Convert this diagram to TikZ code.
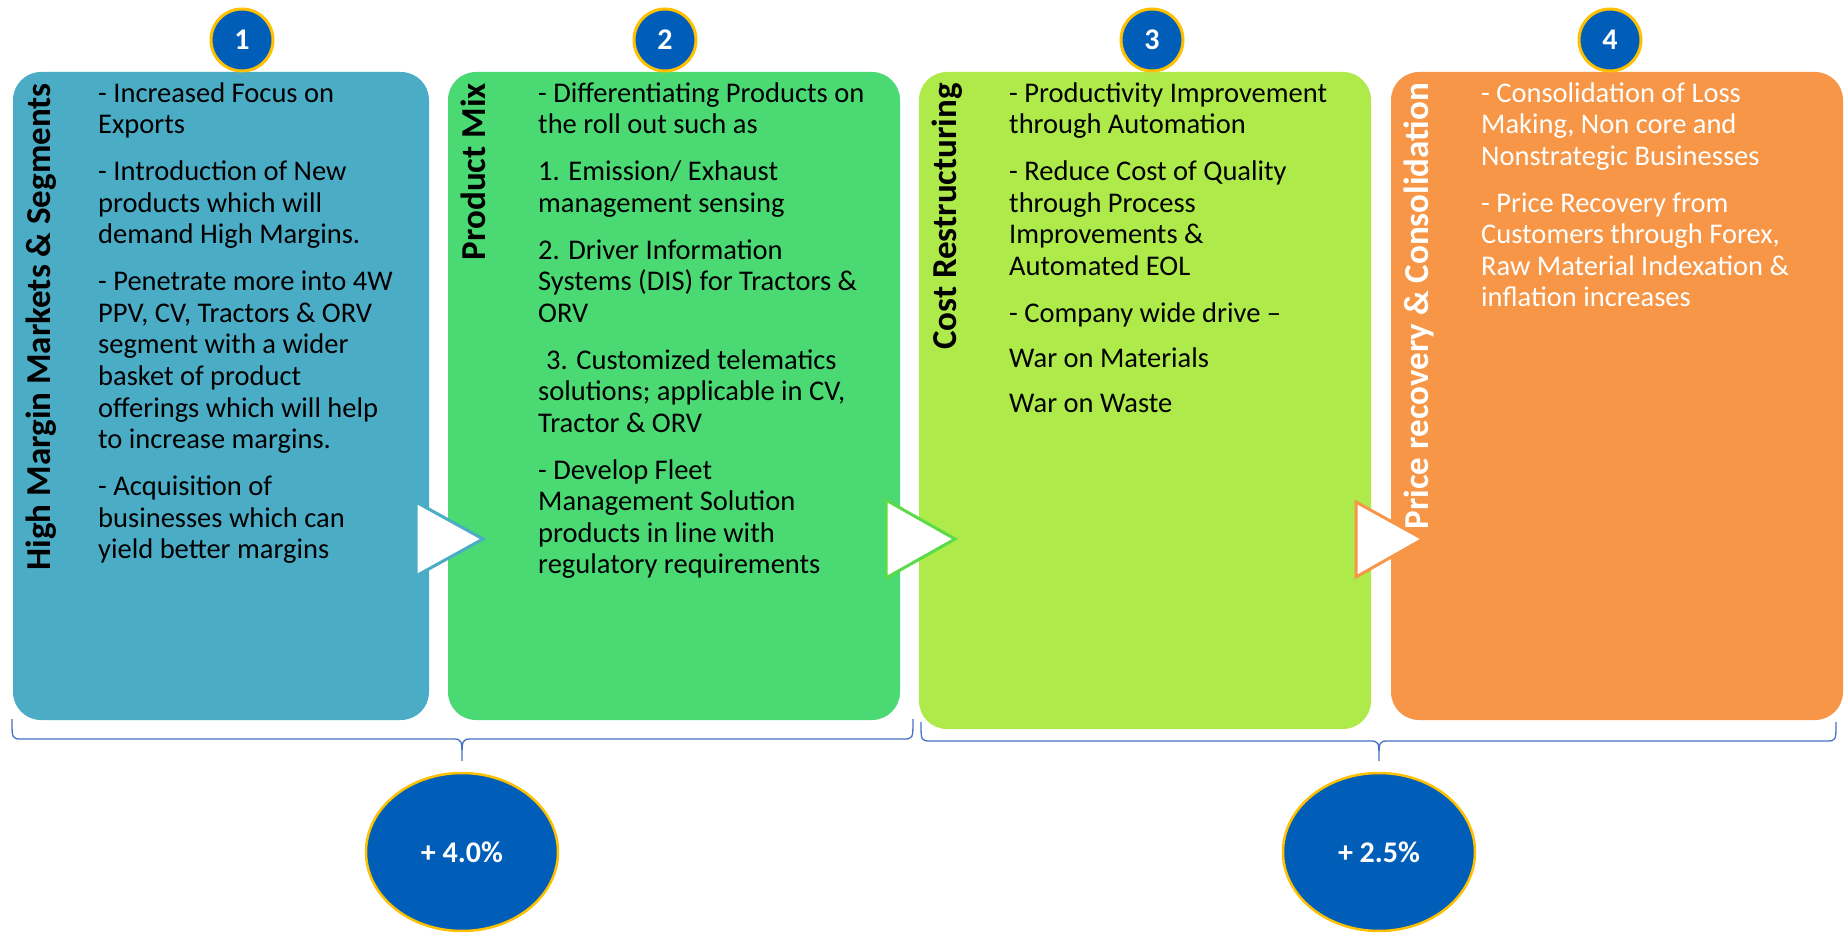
\documentclass[tikz,border=0pt]{standalone}
\usepackage{fontspec}
\setmainfont{Carlito}
\usetikzlibrary{calc,shapes.geometric}
\definecolor{tealbox}{HTML}{4BACC6}
\definecolor{greenbox}{HTML}{4AD972}
\definecolor{limebox}{HTML}{ADEA4A}
\definecolor{orangebox}{HTML}{F79646}
\definecolor{darkblue}{HTML}{005EB8}
\definecolor{gold}{HTML}{FFC000}
\definecolor{bracecol}{HTML}{4472C4}
\definecolor{arrowgreen}{HTML}{5CDB4A}
\newcommand{\fl}{\rule{0pt}{24pt}}
\begin{document}
\begin{tikzpicture}[x=1pt,y=-1pt,
		box/.style={rectangle,rounded corners=28pt,inner sep=0pt},
		title/.style={rotate=90,anchor=base east,inner sep=0pt,font=\fontsize{35}{40}\selectfont\bfseries},
		body/.style={anchor=north west,inner sep=0pt,align=left,font=\fontsize{28.5}{31.6}\selectfont},
		num/.style={circle,fill=darkblue,draw=gold,line width=3pt,minimum size=62pt,inner sep=0pt,text=white,font=\fontsize{30}{30}\selectfont\bfseries},
		gain/.style={ellipse,fill=darkblue,draw=gold,line width=2.5pt,minimum width=192pt,minimum height=158pt,inner sep=0pt,text=white,font=\fontsize{30}{30}\selectfont\bfseries},
		tri/.style={fill=white,line width=3pt,line join=miter},
		brace/.style={draw=bracecol,line width=1.3pt}]
		\useasboundingbox (0,0) rectangle (1847,933);
		\node[box,fill=tealbox,minimum width=416pt,minimum height=648pt] (b1) at (221,396) {};
		\node[box,fill=greenbox,minimum width=452pt,minimum height=648pt] (b2) at (674,396) {};
		\node[box,fill=limebox,minimum width=452pt,minimum height=657pt] (b3) at (1145,400.5) {};
		\node[box,fill=orangebox,minimum width=452pt,minimum height=648pt] (b4) at (1617,396) {};
		\node[title] (h1) at (50,83) {High Margin Markets \& Segments};
		\node[title] (h2) at (485,83) {Product Mix};
		\node[title] (h3) at (956,83) {Cost Restructuring};
		\node[title,text=white] (h4) at (1428,83) {Price recovery \& Consolidation};
		\node[body] (t1) at (98,78) {\fl- Increased Focus on\\Exports\\[15.2pt]
			- Introduction of New\\products which will\\demand High Margins.\\[15.2pt]
			- Penetrate more into 4W\\PPV, CV, Tractors \& ORV\\segment with a wider\\basket of product\\offerings which will help\\to increase margins.\\[15.2pt]
			- Acquisition of\\businesses which can\\yield better margins};
		\node[body] (t2) at (538,78) {\fl- Differentiating Products on\\the roll out such as\\[15.2pt]
			1. Emission/ Exhaust\\management sensing\\[15.2pt]
			2. Driver Information\\Systems (DIS) for Tractors \&\\ORV\\[15.2pt]
			\hspace*{8pt}3. Customized telematics\\solutions; applicable in CV,\\Tractor \& ORV\\[15.2pt]
			- Develop Fleet\\Management Solution\\products in line with\\regulatory requirements};
		\node[body] (t3) at (1009,78) {\fl- Productivity Improvement\\through Automation\\[15.2pt]
			- Reduce Cost of Quality\\through Process\\Improvements \&\\Automated EOL\\[15.2pt]
			- Company wide drive --\\[13.5pt]
			War on Materials\\[13.5pt]
			War on Waste};
		\node[body,text=white] (t4) at (1481,78) {\fl- Consolidation of Loss\\Making, Non core and\\Nonstrategic Businesses\\[15.2pt]
			- Price Recovery from\\Customers through Forex,\\Raw Material Indexation \&\\inflation increases};
		\draw[tri,draw=tealbox] (416,502) -- (483,539) -- (416,576) -- cycle;
		\draw[tri,draw=arrowgreen] (886,500) -- (955,539) -- (886,578) -- cycle;
		\draw[tri,draw=orangebox] (1356,502) -- (1423,539) -- (1356,577) -- cycle;
		\foreach \i/\x in {1/242,2/665,3/1152,4/1610}
			\node[num] (n\i) at (\x,40) {\i};
		\node[gain] (g1) at (462,852) {+ 4.0\%};
		\node[gain] (g2) at (1379,852) {+ 2.5\%};
		\draw[brace] (12,719) .. controls (12,739) .. (22,739) -- (452,739) .. controls (462,739) .. ($(g1.north)+(0,-11)$)
			.. controls (462,739) .. (472,739) -- (903,739) .. controls (913,739) .. (913,719);
		\draw[brace] (921,722) .. controls (921,741) .. (931,741) -- (1369,741) .. controls (1379,741) .. ($(g2.north)+(0,-11)$)
			.. controls (1379,741) .. (1389,741) -- (1826,741) .. controls (1836,741) .. (1836,722);
	\end{tikzpicture}
\end{document}
